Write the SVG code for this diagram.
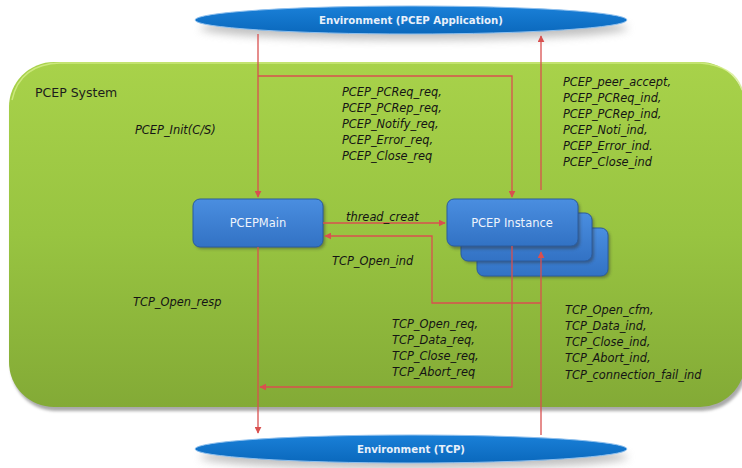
<svg xmlns="http://www.w3.org/2000/svg" width="742" height="468" viewBox="0 0 742 468">
<defs>
<linearGradient id="gGreen" x1="0" y1="0" x2="0" y2="1">
<stop offset="0" stop-color="#a8d24a"/>
<stop offset="0.5" stop-color="#98c441"/>
<stop offset="1" stop-color="#83aa36"/>
</linearGradient>
<linearGradient id="gBox" x1="0" y1="0" x2="0" y2="1">
<stop offset="0" stop-color="#4a8ee0"/>
<stop offset="1" stop-color="#3272c4"/>
</linearGradient>
<linearGradient id="gEll" x1="0" y1="0" x2="0" y2="1">
<stop offset="0" stop-color="#1a80d8"/>
<stop offset="1" stop-color="#0a68bc"/>
</linearGradient>
<filter id="blur" x="-10%" y="-50%" width="120%" height="200%">
<feGaussianBlur stdDeviation="4"/>
</filter>
<filter id="bshadow" x="-20%" y="-20%" width="140%" height="160%">
<feGaussianBlur stdDeviation="1.5"/>
</filter>
<marker id="arr" viewBox="0 0 10 10" refX="9" refY="5" markerWidth="7" markerHeight="7" orient="auto" markerUnits="userSpaceOnUse">
<path d="M0,0 L10,5 L0,10 z" fill="#d9504f"/>
</marker>
<style>
.lbl{font-family:"DejaVu Sans",Verdana,sans-serif;font-style:italic;font-size:11.4px;fill:#141414;}
.ell{fill:url(#gEll);stroke:#8fc0ee;stroke-width:1;}
.etxt{font-family:"DejaVu Sans",Verdana,sans-serif;font-weight:bold;font-size:10.2px;fill:#e8f0fa;text-anchor:middle;}
.box{fill:url(#gBox);stroke:#2a5c9e;stroke-width:1;}
.btxt{font-family:"DejaVu Sans",Verdana,sans-serif;font-size:11.5px;fill:#eef4fc;text-anchor:middle;}
.con{fill:none;stroke:#d9504f;stroke-width:1.3;}
</style>
</defs>
<rect width="742" height="468" fill="#ffffff"/>

<g id="system">
<rect x="11" y="66" width="736" height="345" rx="45" fill="#555" opacity="0.5" filter="url(#bshadow)"/>
<rect x="9" y="62" width="736" height="345" rx="45" fill="url(#gGreen)"/>
<path d="M12,100 Q20,64 60,63 L700,63 Q735,66 742,90" fill="none" stroke="#d4ee8a" stroke-width="1.5" opacity="0.8"/>
<text x="35" y="97" font-family="DejaVu Sans,Verdana,sans-serif" font-size="12.5px" fill="#1c1c1c">PCEP System</text>
</g>

<g id="env-app">
<ellipse cx="414" cy="28" rx="214" ry="12" fill="#999" opacity="0.6" filter="url(#blur)"/>
<ellipse class="ell" cx="411" cy="20" rx="216" ry="14"/>
<text class="etxt" x="411" y="24">Environment (PCEP Application)</text>
</g>

<g id="env-tcp">
<ellipse cx="414" cy="457" rx="214" ry="12" fill="#999" opacity="0.6" filter="url(#blur)"/>
<ellipse class="ell" cx="411" cy="449" rx="216" ry="14"/>
<text class="etxt" x="411" y="453">Environment (TCP)</text>
</g>

<g id="pcepmain">
<rect x="195" y="201" width="130" height="48" rx="7" fill="#333" opacity="0.45" filter="url(#bshadow)"/>
<rect class="box" x="193" y="199" width="130" height="48" rx="7"/>
<text class="btxt" x="258" y="227">PCEPMain</text>
</g>

<g id="pcep-instance">
<rect x="479" y="230" width="131" height="48" rx="7" fill="#333" opacity="0.45" filter="url(#bshadow)"/>
<rect class="box" x="477" y="228" width="131" height="48" rx="7"/>
<rect x="463" y="215" width="131" height="48" rx="7" fill="#333" opacity="0.45" filter="url(#bshadow)"/>
<rect class="box" x="461" y="213" width="131" height="48" rx="7"/>
<rect x="449" y="201" width="131" height="48" rx="7" fill="#333" opacity="0.45" filter="url(#bshadow)"/>
<rect class="box" x="447" y="199" width="131" height="47" rx="7"/>
<text class="btxt" x="512" y="227">PCEP Instance</text>
</g>

<g id="connectors">
<path class="con" d="M258,34 L258,197" marker-end="url(#arr)"/>
<path class="con" d="M258,76 L512,76 L512,197" marker-end="url(#arr)"/>
<path class="con" d="M541,190 L541,36" marker-end="url(#arr)"/>
<path class="con" d="M323,223 L445,223" marker-end="url(#arr)"/>
<path class="con" d="M541,435 L541,252" marker-end="url(#arr)"/>
<path class="con" d="M541,303 L432,303 L432,236 L325,236" marker-end="url(#arr)"/>
<path class="con" d="M512,246 L512,387 L260,387" marker-end="url(#arr)"/>
<path class="con" d="M258,247 L258,433" marker-end="url(#arr)"/>
</g>

<g id="labels">
<text class="lbl" x="135" y="134">PCEP_Init(C/S)</text>
<text class="lbl" x="342" y="96">PCEP_PCReq_req,</text>
<text class="lbl" x="342" y="112">PCEP_PCRep_req,</text>
<text class="lbl" x="342" y="128">PCEP_Notify_req,</text>
<text class="lbl" x="342" y="144">PCEP_Error_req,</text>
<text class="lbl" x="342" y="160">PCEP_Close_req</text>
<text class="lbl" x="563" y="86">PCEP_peer_accept,</text>
<text class="lbl" x="563" y="102">PCEP_PCReq_ind,</text>
<text class="lbl" x="563" y="118">PCEP_PCRep_ind,</text>
<text class="lbl" x="563" y="134">PCEP_Noti_ind,</text>
<text class="lbl" x="563" y="150">PCEP_Error_ind.</text>
<text class="lbl" x="563" y="166">PCEP_Close_ind</text>
<text class="lbl" x="346" y="221">thread_creat</text>
<text class="lbl" x="332" y="265">TCP_Open_ind</text>
<text class="lbl" x="133" y="306">TCP_Open_resp</text>
<text class="lbl" x="392" y="328">TCP_Open_req,</text>
<text class="lbl" x="392" y="344">TCP_Data_req,</text>
<text class="lbl" x="392" y="360">TCP_Close_req,</text>
<text class="lbl" x="392" y="376">TCP_Abort_req</text>
<text class="lbl" x="565" y="314">TCP_Open_cfm,</text>
<text class="lbl" x="565" y="330">TCP_Data_ind,</text>
<text class="lbl" x="565" y="346">TCP_Close_ind,</text>
<text class="lbl" x="565" y="362">TCP_Abort_ind,</text>
<text class="lbl" x="565" y="379">TCP_connection_fail_ind</text>
</g>
</svg>
